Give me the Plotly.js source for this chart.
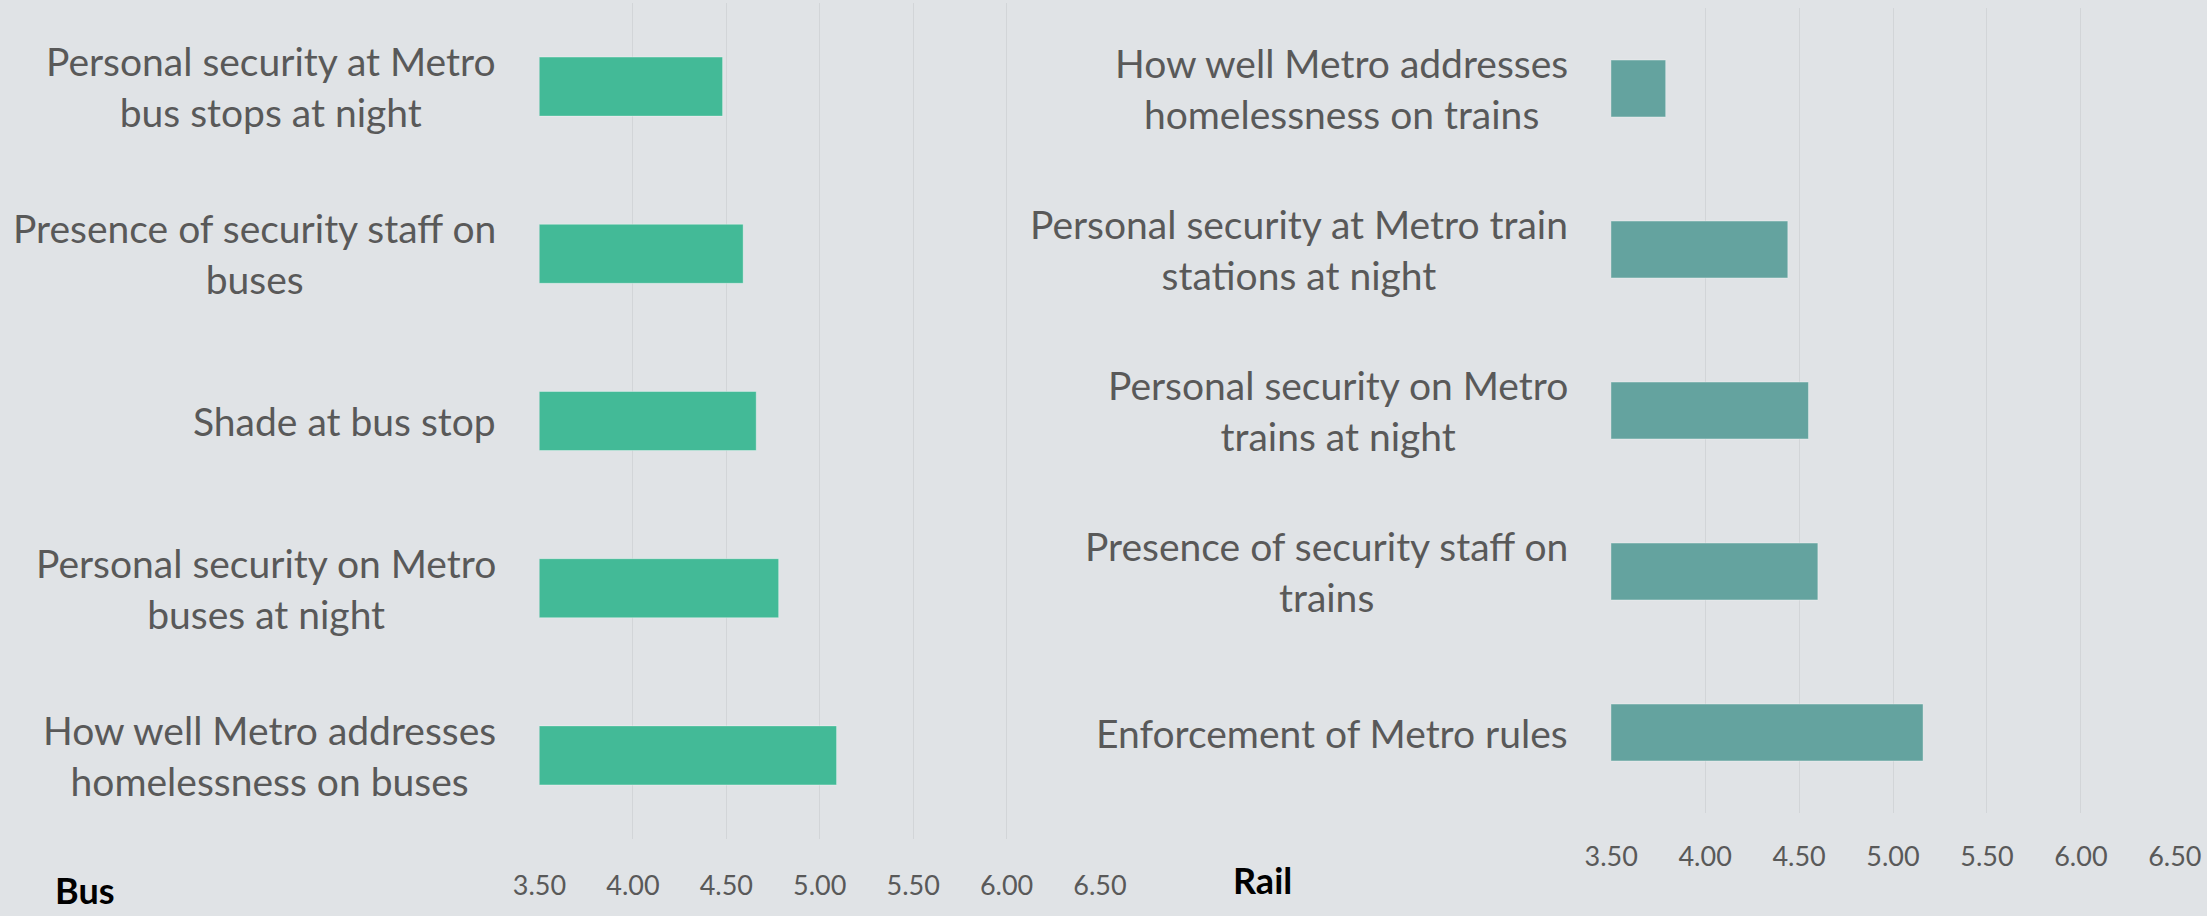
<!DOCTYPE html>
<html>
<head>
<meta charset="utf-8">
<script src="https://cdn.plot.ly/plotly-3.0.1.min.js"></script>
<style>
html,body{margin:0;padding:0;background:#E0E3E6;}
#chart{width:2207px;height:916px;}
</style>
</head>
<body>
<div id="chart"></div>
<script>
// ---- data ----
const busCategories = [
  "Personal security at Metro<br>bus stops at night",
  "Presence of security staff on<br>buses",
  "Shade at bus stop",
  "Personal security on Metro<br>buses at night",
  "How well Metro addresses<br>homelessness on buses"
];
const busValues = [4.48, 4.59, 4.66, 4.78, 5.09];

const railCategories = [
  "How well Metro addresses<br>homelessness on trains",
  "Personal security at Metro train<br>stations at night",
  "Personal security on Metro<br>trains at night",
  "Presence of security staff on<br>trains",
  "Enforcement of Metro rules"
];
const railValues = [3.79, 4.44, 4.55, 4.60, 5.16];

const panelTitles = ["Bus", "Rail"];
const xTickVals = [3.5, 4.0, 4.5, 5.0, 5.5, 6.0, 6.5];

// ---- styling ----
const W = 2207, H = 916;
const FONT = "Lato, 'Open Sans', sans-serif";
const TXT = "#595959";
const BG = "#E0E3E6";
const GRID = "#D2D5D8";

const traces = [
  {
    type: "bar", orientation: "h",
    x: busValues, y: busCategories,
    xaxis: "x", yaxis: "y",
    marker: {color: "#43BA97", line: {color: "rgba(255,255,255,0.35)", width: 1}},
    hoverinfo: "x+y"
  },
  {
    type: "bar", orientation: "h",
    x: railValues, y: railCategories,
    xaxis: "x2", yaxis: "y2",
    marker: {color: "#64A39F", line: {color: "rgba(255,255,255,0.35)", width: 1}},
    hoverinfo: "x+y"
  }
];

function xAxis(domain, anchor, standoff) {
  return {
    domain: domain, anchor: anchor,
    range: [3.5, 6.5],
    tickmode: "array", tickvals: xTickVals,
    ticktext: xTickVals.map(v => v.toFixed(2)),
    showgrid: true, gridcolor: GRID, gridwidth: 1,
    zeroline: false, showline: false, ticks: "",
    ticklabelstandoff: standoff,
    tickfont: {family: FONT, size: 27, color: TXT},
    fixedrange: true
  };
}
function yAxis(domain, anchor) {
  return {
    domain: domain, anchor: anchor, type: "category",
    autorange: "reversed",
    showticklabels: false, showgrid: false, zeroline: false, showline: false, ticks: "",
    fixedrange: true
  };
}

const LABEL_SIZE = 39;
const annotations = [];
busCategories.forEach(c => annotations.push({
  xref: "paper", yref: "y", x: 497.7 / W, y: c,
  xanchor: "right", yanchor: "middle", align: "center",
  text: c, showarrow: false,
  font: {family: FONT, size: LABEL_SIZE, color: TXT}
}));
railCategories.forEach(c => annotations.push({
  xref: "paper", yref: "y2", x: 1569.7 / W, y: c,
  xanchor: "right", yanchor: "middle", align: "center",
  text: c, showarrow: false,
  font: {family: FONT, size: LABEL_SIZE, color: TXT}
}));
annotations.push({
  xref: "paper", yref: "paper", x: 53 / W, y: (H - 890) / H,
  xanchor: "left", yanchor: "middle", text: "<b>" + panelTitles[0] + "</b>", showarrow: false,
  font: {family: FONT, size: 36, color: "#000000"}
});
annotations.push({
  xref: "paper", yref: "paper", x: 1231 / W, y: (H - 880) / H,
  xanchor: "left", yanchor: "middle", text: "<b>" + panelTitles[1] + "</b>", showarrow: false,
  font: {family: FONT, size: 36, color: "#000000"}
});

const layout = {
  width: W, height: H,
  margin: {l: 0, r: 0, t: 0, b: 0, pad: 0},
  paper_bgcolor: BG, plot_bgcolor: BG,
  showlegend: false,
  bargap: 0.647,
  font: {family: FONT, color: TXT},
  xaxis: xAxis([539.5 / W, 1100 / W], "y", 28),
  yaxis: yAxis([(H - 839) / H, (H - 3) / H], "x"),
  xaxis2: xAxis([1611.2 / W, 2174.8 / W], "y2", 25),
  yaxis2: yAxis([(H - 813) / H, (H - 8) / H], "x2"),
  annotations: annotations
};

Plotly.newPlot("chart", traces, layout, {displayModeBar: false, staticPlot: true});
</script>
</body>
</html>
